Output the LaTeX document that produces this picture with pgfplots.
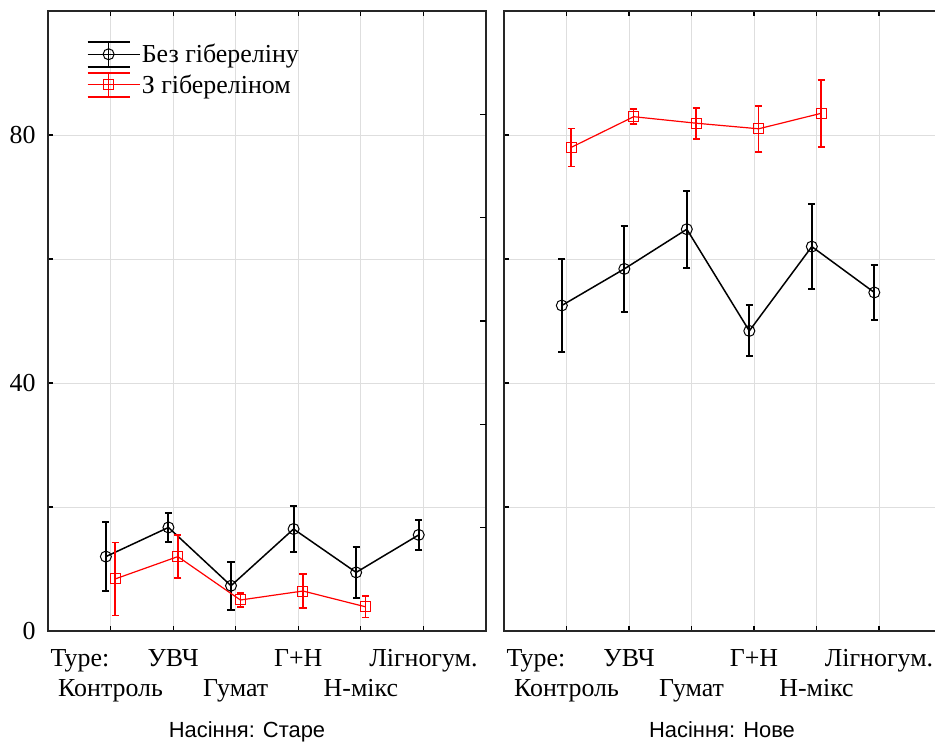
\documentclass[border=0pt]{standalone}
\usepackage{pgfplots}
\pgfplotsset{compat=1.18}
\usepackage{fontspec}
\setmainfont{Liberation Serif}
\newfontfamily\sansf{Liberation Sans}
\definecolor{gridgray}{RGB}{222,222,222}
\begin{document}
\begin{tikzpicture}
\path[use as bounding box] (0bp,0bp) rectangle (935bp,742bp);
\clip (0bp,0bp) rectangle (935bp,742bp);
\pgfplotsset{
  panel/.style={
    anchor=south west, scale only axis, height=620bp,
    xmin=0, ymin=0, ymax=100,
    xtick={1,...,6}, ytick={0,20,...,100},
    tick align=inside, major tick length=5bp,
    ytick pos=left, xtick pos=both,
    grid=major, major grid style={gridgray, line width=0.8bp},
    axis line style={line width=1.5bp, black!85},
    tick style={line width=1.2bp, black},
    xticklabels={{\strut\\Контроль},{\strut УВЧ},{\strut\\Гумат},{\strut Г+Н},{\strut\\Н-мікс},{\strut Лігногум.}},
    xticklabel style={font=\fontsize{26}{30}\selectfont, align=center, anchor=north, yshift=-11bp},
    yticklabel style={font=\fontsize{26}{30}\selectfont, xshift=-9bp},
    /pgf/number format/assume math mode=true,
    extra x ticks={0.51}, extra x tick labels={\strut Type:},
    extra x tick style={major tick length=0pt, grid=none},
    clip=false,
    legend image code/.code={
      \draw[##1, mark=none, line width=2bp] (0bp,12.3bp) -- (42bp,12.3bp) (0bp,-12.3bp) -- (42bp,-12.3bp);
      \draw[##1, mark=none] (21bp,-12.3bp) -- (21bp,12.3bp);
      \draw[mark repeat=2, mark phase=2, ##1] plot coordinates {(0bp,0bp) (21bp,0bp) (42bp,0bp)};
      \path (42bp,0bp) -- (52bp,0bp);
    },
  },
  blk/.style={black, line width=1.5bp, mark=o, mark size=5.5bp, mark options={line width=1bp, solid},
     error bars/.cd, y dir=both, y explicit, error bar style={line width=2bp}, error mark options={rotate=90, mark size=3.6bp, line width=2bp}},
  rd/.style={red, line width=1.2bp, mark=square, mark size=5bp, mark options={line width=1bp, solid},
     error bars/.cd, y dir=both, y explicit, error bar style={line width=1.6bp}, error mark options={rotate=90, mark size=3.6bp, line width=1.6bp}},
}
% left panel
\begin{axis}[panel, at={(48bp,111bp)}, width=438bp, xmax=7,
  yticklabels={0,,40,,80,},
  legend style={at={(axis cs:0.614,95.2)}, anchor=north west, draw=none, fill=none, inner sep=0pt,
    font=\fontsize{26}{30}\selectfont, row sep=4bp, nodes={inner sep=1.5bp}},
  legend cell align=left]
\addplot[blk] coordinates {
 (0.925,12.0) +- (0,5.6)
 (1.925,16.7) +- (0,2.35)
 (2.925,7.3) +- (0,3.85)
 (3.925,16.45) +- (0,3.7)
 (4.925,9.45) +- (0,4.05)
 (5.925,15.5) +- (0,2.4)
};
\addplot[rd] coordinates {
 (1.075,8.4) +- (0,5.9)
 (2.075,12.0) +- (0,3.5)
 (3.075,5.0) +- (0,1.15)
 (4.075,6.45) +- (0,2.7)
 (5.075,3.9) +- (0,1.75)
};
\legend{Без гібереліну, З гібереліном}
\end{axis}
% right-side ticks of left panel
\begin{axis}[at={(48bp,111bp)}, anchor=south west, scale only axis, width=438bp, height=620bp,
  xmin=0, xmax=7, ymin=0, ymax=6, hide x axis, axis y line*=right, ytick={1,...,5}, yticklabels={},
  tick align=inside, major tick length=6bp, axis line style={draw=none}, tick style={line width=1.2bp, black}]
\end{axis}
% right panel
\begin{axis}[panel, at={(504bp,111bp)}, width=437.5bp, xmax=7, yticklabels={}]
\addplot[blk] coordinates {
 (0.925,52.5) +- (0,7.5)
 (1.925,58.4) +- (0,6.95)
 (2.925,64.8) +- (0,6.2)
 (3.925,48.4) +- (0,4.1)
 (4.925,62.0) +- (0,6.85)
 (5.925,54.6) +- (0,4.45)
};
\addplot[rd] coordinates {
 (1.075,78.0) +- (0,3.05)
 (2.075,82.95) +- (0,1.2)
 (3.075,81.9) +- (0,2.5)
 (4.075,81.0) +- (0,3.7)
 (5.075,83.5) +- (0,5.4)
};
\end{axis}
\node[anchor=base, font=\sansf\fontsize{22}{26}\selectfont] at (247bp,4.5bp) {Насіння: Старе};
\node[anchor=base, font=\sansf\fontsize{22}{26}\selectfont] at (722bp,4.5bp) {Насіння: Нове};
\end{tikzpicture}
\end{document}
